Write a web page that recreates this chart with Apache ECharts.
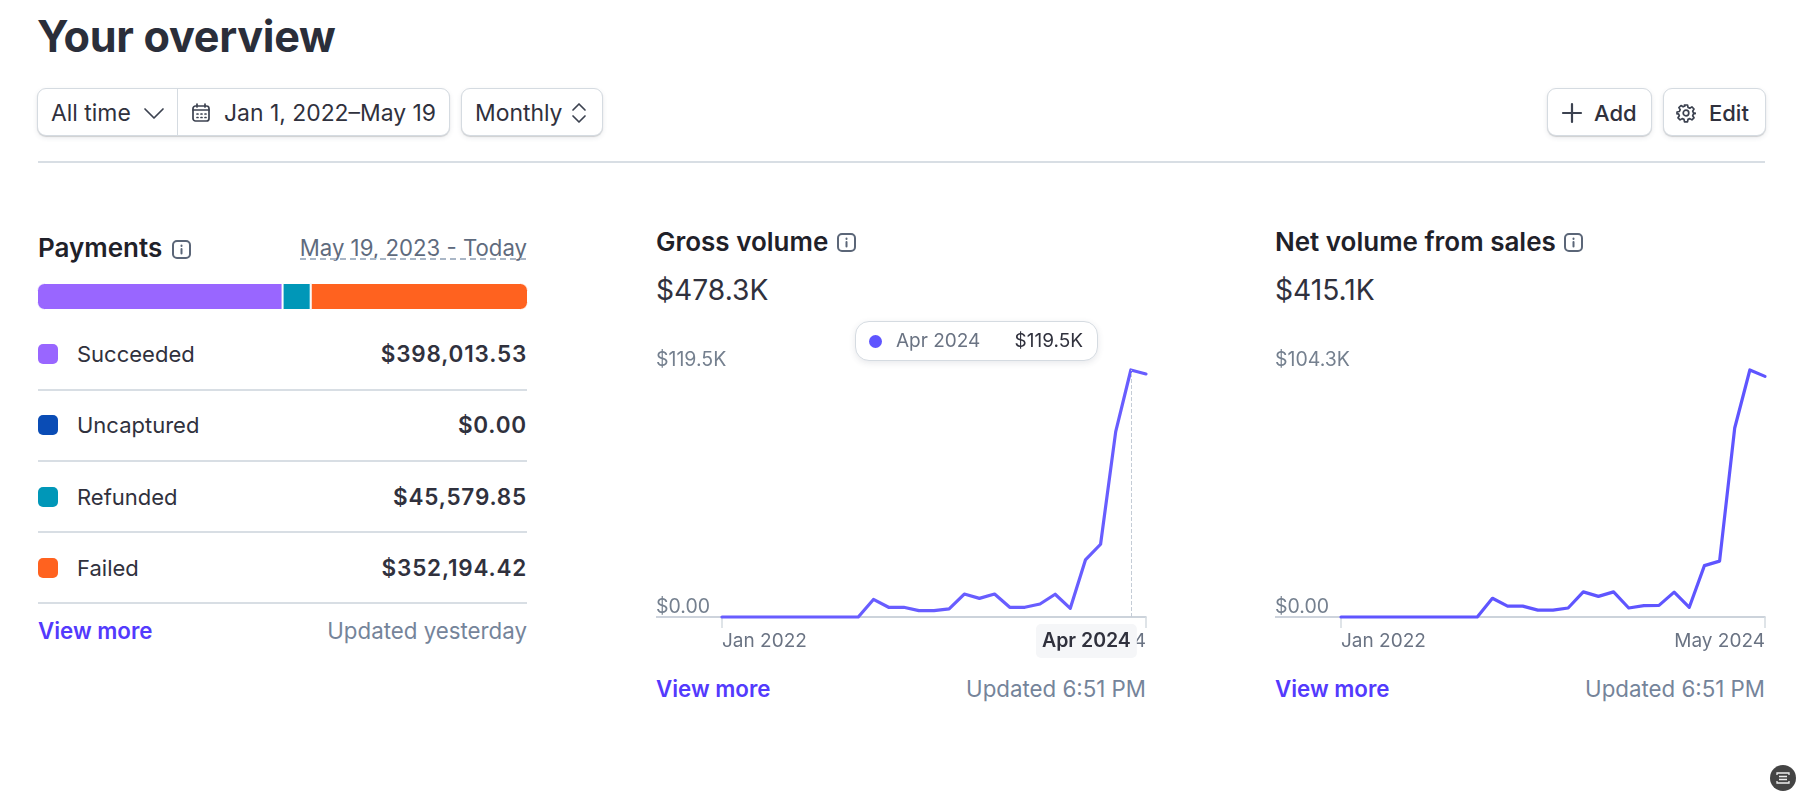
<!DOCTYPE html>
<html>
<head>
<meta charset="utf-8">
<title>Your overview</title>
<script src="https://cdn.jsdelivr.net/npm/echarts@6/dist/echarts.min.js"></script>
<style>
html, body { margin: 0; padding: 0; background: #fff; }
body { width: 1802px; height: 797px; position: relative; overflow: hidden; font-family: Inter, "Noto Sans", sans-serif; color: #30313d; }
.t { position: absolute; white-space: nowrap; line-height: 30px; height: 30px; }
.r { text-align: right; }
.btn { position: absolute; box-sizing: border-box; top: 88px; height: 48px; background: #fff; border: 1px solid #d5dbe1; border-radius: 9px; box-shadow: 0 1px 1px rgba(0,0,0,.14), 0 2px 5px rgba(60,66,87,.1); }
.ico { position: absolute; fill: none; stroke: #3c4250; stroke-width: 1.7; stroke-linecap: round; stroke-linejoin: round; }
.info { stroke: #5b6678; stroke-width: 2; }
.hr { position: absolute; height: 2px; background: #d8dee4; }
.more { color: #533afd; font-weight: 600; font-size: 22.300px; }
.upd { color: #75849a; font-size: 22.300px; }
.head { font-weight: 600; font-size: 26px; color: #1f2129; }
.big { font-size: 28.200px; color: #30313d; }
.btxt { font-size: 22.900px; }
.chart { position: absolute; }
</style>
</head>
<body>
<div class="t" style="left:37px;top:10px;height:52px;line-height:52px;font-size:43.200px;font-weight:700;color:#2a2e3a;letter-spacing:-.3px">Your overview</div>

<div class="btn" style="left:37px;width:413px"></div>
<div style="position:absolute;left:177px;top:89px;width:1px;height:46px;background:#d5dbe1"></div>
<div class="t btxt" style="left:51px;top:98px">All time</div>
<svg class="ico" style="left:143px;top:103px" width="22" height="20"><path d="M2 6l9 9 9-9"/></svg>
<svg class="ico" style="left:191px;top:102px" width="20" height="22" viewBox="0 0 20 22"><rect x="2" y="4" width="16" height="15" rx="2.500"/><path d="M6 2v3M14 2v3M2 8h16M6 12h1M10 12h1M14 12h1M6 15.500h1M10 15.500h1M14 15.500h1"/></svg>
<div class="t btxt" style="left:224px;top:98px">Jan 1, 2022–May 19</div>
<div class="btn" style="left:461px;width:142px"></div>
<div class="t btxt" style="left:475px;top:98px">Monthly</div>
<svg class="ico" style="left:570px;top:101px" width="18" height="24"><path d="M3 9l6-6 6 6M3 15l6 6 6-6"/></svg>
<div class="btn" style="left:1547px;width:105px"></div>
<svg class="ico" style="left:1561px;top:102px;stroke-width:2.200" width="22" height="22"><path d="M11 2v18M2 11h18"/></svg>
<div class="t" style="left:1594px;top:98px;font-size:22px;font-weight:500">Add</div>
<div class="btn" style="left:1663px;width:103px"></div>
<svg class="ico" style="left:1676px;top:103px" width="20" height="20" viewBox="0 0 20 20"><circle cx="10" cy="10" r="2.800"/><path d="M8.500 2h3l.5 2.400 1.800.8 2.100-1.300 2.100 2.100-1.300 2.100.8 1.800 2.400.5v0l-2.400.5-.8 1.800 1.300 2.100-2.100 2.100-2.100-1.300-1.800.8-.5 2.400h-3l-.5-2.400-1.800-.8-2.100 1.300-2.100-2.100 1.300-2.100-.8-1.800L1 11V9l2.400-.5.8-1.800-1.300-2.100 2.100-2.100 2.100 1.300 1.800-.8z"/></svg>
<div class="t" style="left:1709px;top:98px;font-size:22px;font-weight:500">Edit</div>
<div class="hr" style="left:38px;width:1727px;top:161px"></div>

<div class="t head" style="left:38px;top:233px">Payments</div>
<svg class="ico info" style="left:171px;top:239px" width="22" height="22"><rect x="2" y="2" width="17" height="17" rx="4"/><path d="M10.500 6.500v.5M10.500 10v4.500"/></svg>
<div class="t r" style="right:1275px;top:233px;font-size:22.200px;color:#5f6b7e">May 19, 2023 - Today</div>
<div style="position:absolute;left:300px;width:226px;top:258px;border-bottom:2px dashed #a9b6c6"></div>
<div id="payBar" class="chart" style="left:37px;top:283px;width:491px;height:27px"></div>
<div id="payRows"></div>
<div class="t more" style="left:38px;top:616px">View more</div>
<div class="t upd r" style="right:1275px;top:616px">Updated yesterday</div>

<div class="t head" style="left:656px;top:227px">Gross volume</div>
<svg class="ico info" style="left:836px;top:232px" width="22" height="22"><rect x="2" y="2" width="17" height="17" rx="4"/><path d="M10.500 6.500v.5M10.500 10v4.500"/></svg>
<div class="t big" style="left:656px;top:275px">$478.3K</div>
<div id="grossChart" class="chart" style="left:640px;top:300px;width:530px;height:360px"></div>
<div class="t more" style="left:656px;top:674px">View more</div>
<div class="t upd r" style="right:656px;top:674px">Updated 6:51 PM</div>

<div class="t head" style="left:1275px;top:227px">Net volume from sales</div>
<svg class="ico info" style="left:1563px;top:232px" width="22" height="22"><rect x="2" y="2" width="17" height="17" rx="4"/><path d="M10.500 6.500v.5M10.500 10v4.500"/></svg>
<div class="t big" style="left:1275px;top:275px">$415.1K</div>
<div id="netChart" class="chart" style="left:1259px;top:300px;width:530px;height:360px"></div>
<div class="t more" style="left:1275px;top:674px">View more</div>
<div class="t upd r" style="right:37px;top:674px">Updated 6:51 PM</div>

<svg style="position:absolute;left:1770px;top:765px" width="26" height="26"><circle cx="13" cy="13" r="13" fill="#444"/><path d="M7 10V8h12v2M7 16v2h12v-2M9 11.500h8M9 14.500h8" stroke="#eee" stroke-width="1.300" fill="none"/></svg>

<script>
// данные
const months = ['Jan 2022','Feb 2022','Mar 2022','Apr 2022','May 2022','Jun 2022','Jul 2022','Aug 2022','Sep 2022','Oct 2022','Nov 2022','Dec 2022',
  'Jan 2023','Feb 2023','Mar 2023','Apr 2023','May 2023','Jun 2023','Jul 2023','Aug 2023','Sep 2023','Oct 2023','Nov 2023','Dec 2023',
  'Jan 2024','Feb 2024','Mar 2024','Apr 2024','May 2024'];
const grossValues = [0,0,0,0,0,0,0,0,0,0,8.5,4.7,4.7,3.1,3.1,3.9,11.1,9,11.1,4.7,4.7,6.3,11,4.2,27.6,35.2,89.7,119.5,117.6];
const netValues = [0,0,0,0,0,0,0,0,0,0,7.9,4.6,4.6,2.9,2.9,3.8,10.6,8.7,10.6,3.8,4.8,4.9,10.5,4.1,21.7,23.6,79.8,104.3,101.6];
const grossMax = 119.5;
const netMax = 104.3;
const payLabels = ['Succeeded','Uncaptured','Refunded','Failed'];
const payValues = [398013.53,0,45579.85,352194.42];
const payColors = ['#9966ff','#0a4cb5','#0097b8','#ff621f'];

/* строки с суммами */
let rows = document.getElementById('payRows');
payLabels.forEach(function (name, i) {
  let y = 354 + i * 71.3;
  let money = '$' + payValues[i].toLocaleString('en-US', {minimumFractionDigits: 2});
  rows.innerHTML +=
    '<div style="position:absolute;left:38px;top:' + (y - 10) + 'px;width:20px;height:20px;border-radius:5px;background:' + payColors[i] + '"></div>' +
    '<div class="t" style="left:77px;top:' + (y - 15) + 'px;font-size:22px">' + name + '</div>' +
    '<div class="t r" style="right:1275px;top:' + (y - 15) + 'px;font-size:22.500px;font-weight:600;letter-spacing:.8px">' + money + '</div>' +
    '<div class="hr" style="left:38px;width:489px;top:' + (y + 34.500) + 'px"></div>';
});

/* полоса платежей */
let payChart = echarts.init(document.getElementById('payBar'));
let payTotal = payValues.reduce((a, b) => a + b, 0);
payChart.setOption({
  animation: false,
  grid: {left: 0, right: 0, top: 0, bottom: 0},
  xAxis: {type: 'value', min: 0, max: payTotal, show: false},
  yAxis: {type: 'category', data: ['Payments'], show: false},
  series: payLabels.map(function (name, i) {
    let radius = i == 0 ? [7, 0, 0, 7] : i == 3 ? [0, 7, 7, 0] : 0;
    return {
      name: name, type: 'bar', stack: 'pay', barWidth: '100%',
      data: [payValues[i]],
      itemStyle: {color: payColors[i], borderRadius: radius, borderColor: '#fff', borderWidth: 1}
    };
  })
});

/* линейный график */
function drawLine(id, values, max) {
  let chart = echarts.init(document.getElementById(id));
  let ends = (i) => i == 0 || i == months.length - 1;
  chart.setOption({
    animation: false,
    grid: {left: 82, right: 24, top: 70, bottom: 43},
    xAxis: {
      type: 'category', data: months, boundaryGap: false,
      axisLine: {lineStyle: {color: '#bcc5d0', width: 1.5}},
      axisTick: {show: true, length: 11, interval: ends, lineStyle: {color: '#d5dbe1', width: 1.5}},
      axisLabel: {
        interval: ends, color: '#6a7383', fontFamily: 'Inter', fontSize: 19, margin: 15,
        alignMinLabel: 'left', alignMaxLabel: 'right'
      },
      splitLine: {show: false}
    },
    yAxis: {
      type: 'value', min: 0, max: max,
      axisLine: {show: false},
      axisTick: {show: true, length: 66, customValues: [0], lineStyle: {color: '#bcc5d0', width: 1.5}},
      splitLine: {show: false},
      axisLabel: {
        customValues: [0, max], margin: 66, align: 'left', verticalAlign: 'bottom',
        color: '#75808f', fontFamily: 'Inter', fontSize: 19.500,
        formatter: (v) => v == 0 ? '$0.00' : '$' + v + 'K'
      }
    },
    series: [{
      type: 'line', data: values, symbol: 'none', clip: false,
      lineStyle: {color: '#5f55ff', width: 3.2, join: 'round', cap: 'round'}
    }]
  });
  return chart;
}

drawLine('netChart', netValues, netMax);
let grossChart = drawLine('grossChart', grossValues, grossMax);

/* всплывающее окно на апреле 2024 */
let hoverIndex = months.indexOf('Apr 2024');
grossChart.setOption({
  tooltip: {
    trigger: 'axis', triggerOn: 'none', alwaysShowContent: true, position: [215, 21],
    backgroundColor: '#fff', borderColor: '#d5dbe1', borderWidth: 1.5, padding: 0,
    extraCssText: 'border-radius:14px;box-shadow:0 2px 6px rgba(60,66,87,.12);',
    axisPointer: {type: 'line', lineStyle: {color: '#c4ccd6', type: 'dashed', width: 1}, label: {show: false}},
    formatter: function (p) {
      return '<div style="width:241px;height:38px;line-height:38px;position:relative;font-family:Inter;font-size:19px">' +
        '<span style="position:absolute;left:13px;top:13px;width:13px;height:13px;border-radius:50%;background:#5f55ff"></span>' +
        '<span style="position:absolute;left:40px;color:#6a7383">' + p[0].axisValue + '</span>' +
        '<span style="position:absolute;right:14px;color:#30313d">$' + p[0].value + 'K</span></div>';
    }
  },
  graphic: [{
    type: 'text', z: 100,
    x: grossChart.convertToPixel({xAxisIndex: 0}, months[hoverIndex]) + 6,
    y: 341,
    style: {
      text: months[hoverIndex], align: 'right', verticalAlign: 'middle',
      fontFamily: 'Inter', fontSize: 19.500, fontWeight: 600, fill: '#30313d',
      backgroundColor: '#f5f6f8', padding: [7, 6], borderRadius: 5
    }
  }]
});
grossChart.dispatchAction({type: 'showTip', seriesIndex: 0, dataIndex: hoverIndex});
</script>
</body>
</html>
